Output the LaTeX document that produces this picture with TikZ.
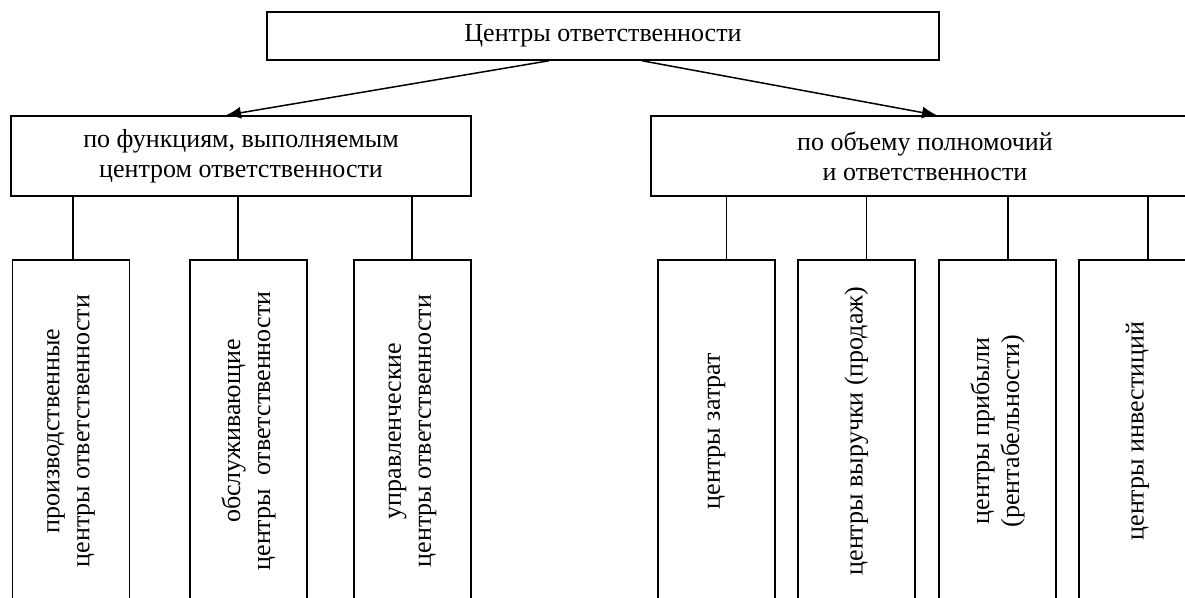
\documentclass[tikz,border=0pt]{standalone}
\usepackage{fontspec}
\setmainfont{Liberation Serif}
\usetikzlibrary{arrows.meta,positioning}

\begin{document}
\begin{tikzpicture}[
  x=1pt, y=-1pt,
  font=\fontsize{26}{30}\selectfont,
  box/.style={draw, line width=1.5pt, inner sep=0pt, align=center},
  leaf/.style={box, rotate=90, minimum width=342pt, minimum height=117pt},
  arr/.style={-{Latex[length=15pt,width=12pt]}, line width=1.5pt},
  link/.style={line width=1.5pt}
]
\useasboundingbox (0,0) rectangle (1185,597);
% root
\node[box, minimum width=672pt, minimum height=48pt] (root) at (603,36) {Центры ответственности};
% two groupings
\node[box, minimum width=460pt, minimum height=80pt] (fn) at (241,156) {по функциям, выполняемым\\центром ответственности};
\node[box, minimum width=548pt, minimum height=80pt] (pw) at (925,156) {по объему полномочий\\и ответственности};
\draw[arr] ([xshift=-54pt]root.south) -- ([xshift=-15pt]fn.north);
\draw[arr] ([xshift=39pt]root.south) -- ([xshift=12pt]pw.north);
% by function
\node[leaf] (f1) at (71,431) {производственные\\центры ответственности};
\node[leaf] (f2) at (248.5,431) {обслуживающие\\центры\ \ ответственности};
\node[leaf] (f3) at (412.5,431) {управленческие\\центры ответственности};
% by authority
\node[leaf] (p1) at (716.5,431) {центры затрат};
\node[leaf] (p2) at (856.5,431) {центры выручки (продаж)};
\node[leaf] (p3) at (997.5,431) {центры прибыли\\(рентабельности)};
\node[leaf] (p4) at (1137.5,431) {центры инвестиций};
% links
\foreach \n/\s in {f1/2, f2/-10.5, f3/-0.5}{
  \draw[link] ([xshift=\s pt]\n.east) -- ([xshift=\s pt]\n.east |- fn.south);
}
\foreach \n/\s in {p1/10, p2/10, p3/10.5, p4/10.5}{
  \draw[link] ([xshift=\s pt]\n.east) -- ([xshift=\s pt]\n.east |- pw.south);
}
\end{tikzpicture}
\end{document}
